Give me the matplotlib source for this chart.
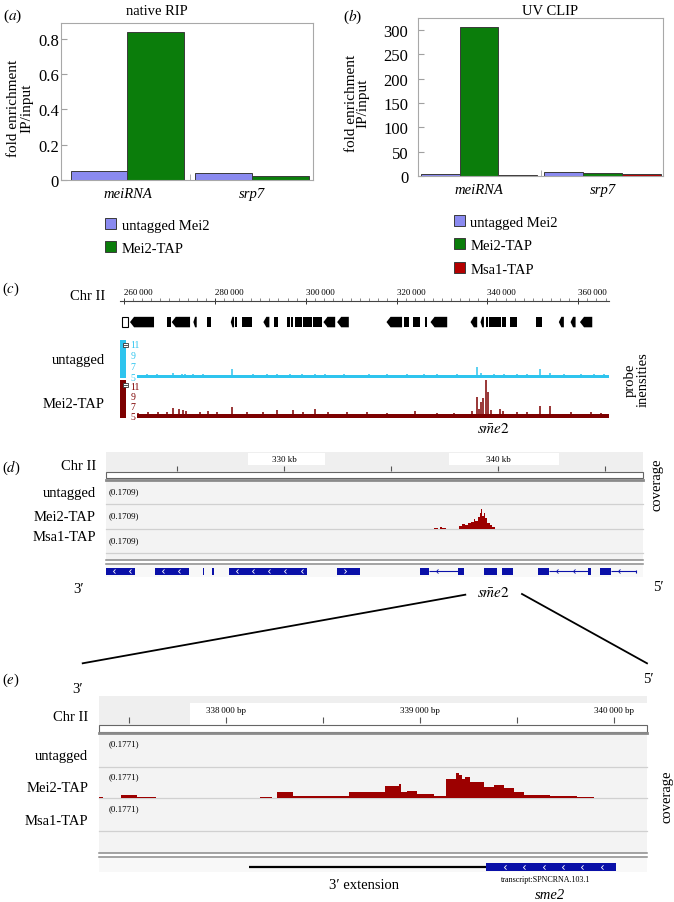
import matplotlib
matplotlib.use('Agg')
import matplotlib.pyplot as plt
from matplotlib.patches import Rectangle, Polygon
from matplotlib.path import Path
from matplotlib.ticker import MultipleLocator
import numpy as np

# ---------------- data ----------------
categories = ['meiRNA', 'srp7']
rip_labels = ['untagged Mei2', 'Mei2-TAP']
rip_untagged = [0.051, 0.038]
rip_mei2 = [0.838, 0.024]
rip_yticks = [0, 0.2, 0.4, 0.6, 0.8]

clip_labels = ['untagged Mei2', 'Mei2-TAP', 'Msa1-TAP']
clip_untagged = [3.5, 7.6]
clip_mei2 = [307.0, 6.2]
clip_msa1 = [1.5, 3.5]
clip_yticks = [0, 50, 100, 150, 200, 250, 300]

# panel (c): genome overview
c_ticks = [260000, 280000, 300000, 320000, 340000, 360000]
c_gene_start = [259490, 261320, 269400, 270500, 275270, 278210, 283500, 284450, 285920, 290680,
                293040, 295830, 296710, 297670, 299360, 301700, 303900, 306920, 317780, 321590,
                323660, 326370, 327470, 336280, 338480, 339580, 340330, 341560, 343260, 344890,
                350590, 355720, 358300, 360370]
c_gene_end = [260950, 266610, 270290, 274540, 276010, 279090, 284230, 284960, 288130, 292000,
              293990, 296560, 297290, 299140, 301340, 303550, 306490, 309490, 321210, 322690,
              325260, 326740, 331150, 337750, 339230, 340110, 341430, 342890, 344140, 346580,
              352070, 356830, 359410, 363080]
c_gene_shape = [2, -1, 0, -1, -1, 0, -1, 0, 0, -1,
                0, 0, 0, 0, 0, 0, -1, -1, -1, 0,
                0, 0, -1, -1, -1, 0, 0, 0, 0, 0,
                0, -1, -1, -1]
probe_ticks = [5, 7, 9, 11]
c_signal_start = 262900
c_signal_end = 366700
untagged_base = 5.25
untagged_spike_bp = [265000, 267200, 270860, 272710, 273440, 275260, 277470, 283850, 288480, 291430,
                     293630, 296560, 299140, 302070, 304270, 308390, 313900, 317930, 322330, 326010,
                     328940, 333350, 337600, 338630, 341430, 343630, 346560, 348760, 351470, 353770,
                     356850, 360510, 363460, 365660]
untagged_spike_val = [5.5, 5.4, 5.7, 5.5, 5.5, 5.4, 5.45, 6.35, 5.45, 5.5,
                      5.45, 5.5, 5.5, 5.5, 5.4, 5.45, 5.4, 5.5, 5.45, 5.5,
                      5.45, 5.4, 6.7, 5.6, 5.45, 5.5, 5.45, 5.4, 6.4, 5.7,
                      5.45, 5.5, 5.4, 5.45]
mei2_base = 5.3
mei2_spike_bp = [263150, 265350, 267550, 269400, 270860, 272110, 272930, 273660, 276740, 278570,
                 280420, 283850, 287030, 290680, 293630, 297160, 299490, 302070, 305000, 309120,
                 313520, 317930, 324160, 328940, 332620, 336650, 337600, 338130, 338630, 339010,
                 339580, 340020, 340840, 342880, 343410, 346560, 348760, 351560, 353770, 358300,
                 362710, 364910]
mei2_spike_val = [5.5, 5.6, 5.6, 5.7, 6.5, 6.2, 6.0, 5.8, 5.7, 5.9,
                  5.6, 6.7, 5.6, 5.7, 6.0, 6.1, 5.7, 6.2, 5.6, 5.6,
                  5.6, 5.5, 5.9, 5.5, 5.5, 5.8, 8.6, 6.3, 7.6, 8.5,
                  12.0, 9.6, 6.1, 6.3, 5.9, 5.6, 5.6, 6.8, 6.9, 5.6,
                  5.6, 5.5]

# panel (d): IGV view
d_ticks = [325000, 330000, 335000, 340000, 345000]
d_labelled = [330000, 340000]
d_range = 0.1709
d_cov_start = [336990, 337100, 337280, 337400, 338160, 338300, 338450, 338600, 338720, 338860,
               338950, 339050, 339140, 339200, 339260, 339330, 339400, 339500, 339620, 339740]
d_cov_end = [337100, 337200, 337400, 337580, 338300, 338450, 338600, 338720, 338860, 338950,
             339050, 339140, 339200, 339260, 339330, 339400, 339500, 339620, 339740, 339870]
d_cov_val = [0.010, 0.007, 0.017, 0.010, 0.021, 0.034, 0.027, 0.041, 0.048, 0.068,
             0.055, 0.082, 0.109, 0.137, 0.089, 0.109, 0.075, 0.041, 0.027, 0.014]
d_exon_start = [321660, 323950, 326210, 326630, 327400, 332470, 336340, 338114, 339330, 340190,
                341870, 344197, 344790]
d_exon_end = [323010, 325555, 326260, 326700, 331050, 333560, 336760, 338395, 339950, 340700,
              342370, 344352, 345290]
d_exon_strand = [-1, -1, 0, 0, -1, 1, 0, 0, 0, 0, 0, 0, 0]
d_intron_start = [336760, 342370, 345290]
d_intron_end = [338114, 344197, 346472]

# panel (e): zoomed IGV view
e_ticks = [337500, 338000, 338500, 339000, 339500, 340000]
e_labelled = [338000, 339000, 340000]
e_range = 0.1771
e_cov_start = [337344, 337456, 337542, 338176, 338262, 338344, 338573, 338633, 338822, 338890,
               338905, 338934, 338986, 339072, 339137, 339184, 339200, 339218, 339235, 339261,
               339330, 339382, 339434, 339485, 339537, 339674, 339812]
e_cov_end = [337365, 337542, 337639, 338236, 338344, 338573, 338633, 338822, 338890, 338905,
             338934, 338986, 339072, 339137, 339184, 339200, 339218, 339235, 339261, 339330,
             339382, 339434, 339485, 339537, 339674, 339812, 339898]
e_cov_val = [0.006, 0.019, 0.006, 0.006, 0.034, 0.013, 0.010, 0.032, 0.066, 0.079,
             0.034, 0.041, 0.023, 0.013, 0.108, 0.140, 0.130, 0.108, 0.119, 0.089,
             0.061, 0.074, 0.057, 0.032, 0.017, 0.013, 0.006]
e_exon = (339339, 340010)
e_extension = (338120, 339339)

# ---------------- style ----------------
W, H = 674, 903
plt.rcParams['font.family'] = ['Liberation Serif', 'DejaVu Serif']
plt.rcParams['mathtext.fontset'] = 'stix'
c_unt, c_mei, c_msa = '#8a8af0', '#0b7d0b', '#b40000'
c_edge = '#3a3a3a'
c_cyan, c_dred, c_cov, c_blue = '#2ec4ee', '#7d0000', '#9c0000', '#0a10a8'
igv_bg, igv_line, igv_sep = '#f3f3f3', '#8a8a8a', '#d0d0d0'

fig = plt.figure(figsize=(W / 100, H / 100), dpi=100)


def px_ax(x0, y0, x1, y1, z=2):
    ax = fig.add_axes([x0 / W, 1 - y1 / H, (x1 - x0) / W, (y1 - y0) / H])
    ax.set_zorder(z)
    ax.patch.set_visible(False)
    return ax


bg = px_ax(0, 0, W, H, z=-5)
fg = px_ax(0, 0, W, H, z=20)
for a in (bg, fg):
    a.set_xlim(0, W)
    a.set_ylim(H, 0)
    a.axis('off')


def T(x, y, s, size=10.5, ha='left', va='center_baseline', **kw):
    fg.text(x, y, s, fontsize=size, ha=ha, va=va, **kw)


def strip(ax):
    for s in ax.spines.values():
        s.set_visible(False)
    ax.set_xticks([])
    ax.set_yticks([])


# ---------------- (a)/(b) bar panels ----------------
def bar_panel(rect, series, colors, width, offsets, xlim, ylim, yticks, fmt, pad):
    ax = px_ax(*rect)
    x = np.arange(len(categories))
    for vals, col, off in zip(series, colors, offsets):
        ax.bar(x + off, vals, width, color=col, edgecolor=c_edge, lw=0.7, zorder=2)
    ax.set_xlim(*xlim)
    ax.set_ylim(*ylim)
    ax.set_yticks(yticks)
    ax.set_yticklabels([fmt(v) for v in yticks])
    ax.set_xticks(x)
    ax.set_xticklabels(categories, fontstyle='italic', fontsize=10.5)
    ax.set_xticks([0.5], minor=True)
    ax.tick_params(axis='x', which='major', length=0, pad=5)
    ax.tick_params(axis='x', which='minor', direction='in', length=4, color='#a0a0a0')
    ax.tick_params(axis='y', direction='in', length=4, color='#a0a0a0', labelsize=12, pad=pad)
    for s in ax.spines.values():
        s.set_color('#a8a8a8')
        s.set_linewidth(0.8)
    return ax


bar_panel((61, 24, 313, 181), [rip_untagged, rip_mei2], [c_unt, c_mei], 0.454,
          [-0.227, 0.227], (-0.534, 1.49), (0, 0.89), rip_yticks,
          lambda v: '0' if v == 0 else f'{v:.1f}', 1.5)
bar_panel((418, 19, 663, 177), [clip_untagged, clip_mei2, clip_msa1], [c_unt, c_mei, c_msa], 0.314,
          [-0.314, 0.0, 0.314], (-0.494, 1.49), (0, 324.6), clip_yticks,
          lambda v: f'{v:d}', 7)

T(3, 13.5, r'($\mathit{a}$)', 11)
T(343, 14, r'($\mathit{b}$)', 11)
T(156.7, 10, 'native RIP', 10.5, ha='center')
T(550, 10, 'UV CLIP', 10.5, ha='center')
for xx, yy, s in [(13.3, 108, 'fold enrichment'), (26.7, 108, 'IP/input'),
                  (351.7, 103, 'fold enrichment'), (363.3, 103, 'IP/input')]:
    fg.text(xx, yy, s, fontsize=11, rotation=90, ha='center', va='center')


def legend(x, y0, dy, labels, colors):
    for i, (lab, col) in enumerate(zip(labels, colors)):
        yc = y0 + i * dy
        fg.add_patch(Rectangle((x, yc - 5.5), 11, 11, facecolor=col, edgecolor=c_edge, lw=0.7))
        T(x + 16.5, yc + 1, lab, 10.5)


legend(105, 224, 23, rip_labels, [c_unt, c_mei])
legend(454, 221, 23.5, clip_labels, [c_unt, c_mei, c_msa])

# ---------------- (c) probe intensities ----------------
xlim_c = (259120, 366700)
ax_cr = px_ax(120, 301.7, 608.7, 330)
ax_cr.set_xlim(*xlim_c)
ax_cr.set_ylim(0, 1)
for s in ['left', 'right', 'bottom']:
    ax_cr.spines[s].set_visible(False)
ax_cr.spines['top'].set_color('#444444')
ax_cr.spines['top'].set_linewidth(0.8)
ax_cr.set_yticks([])
ax_cr.xaxis.tick_top()
ax_cr.set_xticks(c_ticks)
ax_cr.set_xticklabels([f'{v // 1000}\u2009{v % 1000:03d}' for v in c_ticks])
ax_cr.xaxis.set_minor_locator(MultipleLocator(2000))
ax_cr.tick_params(axis='x', which='major', direction='inout', length=5, width=0.7,
                  labelsize=6.5, pad=1, color='#333333')
ax_cr.tick_params(axis='x', which='minor', direction='out', length=2, width=0.5, color='#555555')
for lbl in ax_cr.get_xticklabels():
    lbl.set_ha('left')
g_lo, g_hi = 0.06, 0.43
g_mid = (g_lo + g_hi) / 2
for s0, e0, shp in zip(c_gene_start, c_gene_end, c_gene_shape):
    if shp == -1:
        aw = min(900, (e0 - s0) * 0.5)
        ax_cr.add_patch(Polygon([(s0, g_mid), (s0 + aw, g_hi), (e0, g_hi), (e0, g_lo), (s0 + aw, g_lo)],
                                closed=True, color='black', lw=0))
    elif shp == 2:
        ax_cr.add_patch(Rectangle((s0, g_lo), e0 - s0, g_hi - g_lo, facecolor='white',
                                  edgecolor='black', lw=0.8))
    else:
        ax_cr.add_patch(Rectangle((s0, g_lo), e0 - s0, g_hi - g_lo, color='black', lw=0))


def probe_track(rect, ylim, base, sbp, sval, col):
    ax = px_ax(*rect)
    ax.set_xlim(*xlim_c)
    ax.set_ylim(*ylim)
    for s in ax.spines.values():
        s.set_visible(False)
    ax.set_xticks([])
    ax.fill_between([c_signal_start, c_signal_end], ylim[0], base, color=col, lw=0)
    ax.vlines(sbp, ylim[0], sval, color=col, lw=1.1)
    ax.set_yticks(probe_ticks)
    ax.set_yticklabels([str(v) for v in probe_ticks])
    ax.tick_params(axis='y', length=0, pad=-7.5, labelsize=7, labelcolor=col)
    for lbl in ax.get_yticklabels():
        lbl.set_ha('left')
    return ax


probe_track((120, 341, 608.7, 379.3), (4.63, 11.74), untagged_base, untagged_spike_bp,
            untagged_spike_val, c_cyan)
probe_track((120, 381, 608.7, 419.3), (4.34, 12.0), mei2_base, mei2_spike_bp,
            mei2_spike_val, c_dred)
for y0, col in [(341, c_cyan), (381, c_dred)]:
    fg.add_patch(Rectangle((120, y0), 6, 38.3, color=col, lw=0))
    fg.add_patch(Rectangle((123.3, y0 + 2.5), 4.8, 4.8, facecolor='white', edgecolor='#333333', lw=0.6))
    fg.plot([124.3, 127.1], [y0 + 4.9, y0 + 4.9], color='#333333', lw=0.6)

T(2, 287, r'($\mathit{c}$)', 10.5)
T(105, 295, 'Chr II', 10.5, ha='right')
T(105, 359.3, 'untagged', 10.5, ha='right')
T(105, 402.7, 'Mei2-TAP', 10.5, ha='right')
fg.text(636.5, 380, 'probe\ninensities', fontsize=10.5, rotation=90, ha='center', va='center',
        multialignment='center', linespacing=1.05)
T(493.7, 428, r'$\mathit{s\bar{m}e2}$', 11, ha='center')

# ---------------- IGV helpers ----------------
chev_l = Path([(0.35, 0.75), (-0.35, 0.0), (0.35, -0.75)], [Path.MOVETO, Path.LINETO, Path.LINETO])
chev_r = Path([(-0.35, 0.75), (0.35, 0.0), (-0.35, -0.75)], [Path.MOVETO, Path.LINETO, Path.LINETO])


def igv_frame(x0, x1, y_rul, y_ideo, seps, y_dbl, y_gene_end, boxes):
    bg.add_patch(Rectangle((x0, y_rul), x1 - x0, y_ideo - y_rul, color='#efefef', lw=0))
    for bx0, by0, bx1, by1 in boxes:
        bg.add_patch(Rectangle((bx0, by0), bx1 - bx0, by1 - by0, color='white', lw=0))
    bg.add_patch(Rectangle((x0, y_ideo), x1 - x0, 6.6, facecolor='white', edgecolor='#666666', lw=0.8))
    bg.plot([x0, x1], [y_ideo + 8.3, y_ideo + 8.3], color=igv_line, lw=2)
    bg.add_patch(Rectangle((x0, y_ideo + 9.3), x1 - x0, y_dbl - y_ideo - 9.3, color=igv_bg, lw=0))
    for yy in seps:
        bg.plot([x0, x1], [yy, yy], color=igv_sep, lw=0.9)
    for yy in (y_dbl, y_dbl + 3.6):
        bg.plot([x0, x1], [yy, yy], color=igv_line, lw=1.1)
    bg.add_patch(Rectangle((x0, y_dbl + 4.5), x1 - x0, y_gene_end - y_dbl - 4.5, color='#f8f8f8', lw=0))


def igv_ruler(rect, xlim, ticks, labelled, fmt, tick_frac, label_frac):
    ax = px_ax(*rect)
    ax.set_xlim(*xlim)
    ax.set_ylim(0, 1)
    strip(ax)
    ax.vlines(ticks, tick_frac[0], tick_frac[1], color='#555555', lw=0.8)
    for v in labelled:
        ax.text(v, label_frac, fmt(v), fontsize=6.5, ha='center', va='center')
    return ax


def cov_track(rect, xlim, rng, starts, ends, vals):
    ax = px_ax(*rect)
    ax.set_xlim(*xlim)
    ax.set_ylim(0, rng)
    strip(ax)
    widths = np.array(ends) - np.array(starts)
    ax.bar(starts, vals, width=widths, align='edge', color=c_cov, lw=0)
    return ax


def chevrons(ax, s0, e0, y, spacing, strand, color, ms):
    xs = np.arange(s0 + spacing / 2, e0 - spacing / 4, spacing)
    ax.plot(xs, np.full(len(xs), y), ls='none', marker=chev_l if strand < 0 else chev_r,
            ms=ms, mec=color, mfc='none', mew=0.6)


# ---------------- (d) ----------------
xlim_d = (321660, 346790)
igv_frame(106, 643, 453, 472.7, [505, 530, 554], 561, 578,
          [(248, 454, 325, 465.5), (449, 454, 559, 465.5)])
igv_ruler((106, 453, 643, 472.7), xlim_d, d_ticks, d_labelled, lambda v: f'{v // 1000} kb',
          (0.05, 0.27), 0.64)
cov_track((106, 505, 643, 530), xlim_d, d_range, d_cov_start, d_cov_end, d_cov_val)
ax_dg = px_ax(106, 566, 643, 578)
ax_dg.set_xlim(*xlim_d)
ax_dg.set_ylim(0, 1)
strip(ax_dg)
ax_dg.hlines([0.46] * len(d_intron_start), d_intron_start, d_intron_end, color=c_blue, lw=0.8)
for s0, e0 in zip(d_intron_start, d_intron_end):
    chevrons(ax_dg, s0, e0, 0.46, 800, -1, c_blue, 3)
ax_dg.vlines(d_intron_end[-1], 0.3, 0.62, color=c_blue, lw=0.8)
for s0, e0, st in zip(d_exon_start, d_exon_end, d_exon_strand):
    ax_dg.add_patch(Rectangle((s0, 0.19), e0 - s0, 0.535, color=c_blue, lw=0))
    if st != 0:
        chevrons(ax_dg, s0, e0, 0.46, 760, st, 'white', 3)

T(2, 465, r'($\mathit{d}$)', 10.5)
T(96, 465, 'Chr II', 10.5, ha='right')
T(96, 492.3, 'untagged', 10.5, ha='right')
T(96, 516, 'Mei2-TAP', 10.5, ha='right')
T(96, 536, 'Msa1-TAP', 10.5, ha='right')
for yy in (490.7, 515, 540):
    T(108.3, yy, f'({d_range})', 6.5)
fg.text(657, 485, 'coverage', fontsize=10.5, rotation=90, ha='center', va='center')
T(79, 588, '3\u2032', 10.5, ha='center')
T(658.7, 586, '5\u2032', 10.5, ha='center')
T(493.7, 592, r'$\mathit{s\bar{m}e2}$', 11, ha='center')
fg.plot([465.3, 82.7], [595.7, 664.3], color='black', lw=1.3)
fg.plot([522, 647], [595, 664.3], color='black', lw=1.3)

# ---------------- (e) ----------------
xlim_e = (337346, 340172)
igv_frame(99.3, 647, 696.7, 726, [767.7, 799, 831.7], 854.3, 873.3,
          [(190, 704, 647, 726)])
igv_ruler((99.3, 696.7, 647, 726), xlim_e, e_ticks, e_labelled,
          lambda v: f'{v // 1000}\u2009{v % 1000:03d} bp', (0.06, 0.28), 0.52)
cov_track((99.3, 767.7, 647, 799), xlim_e, e_range, e_cov_start, e_cov_end, e_cov_val)
ax_eg = px_ax(99.3, 859.5, 647, 873.3)
ax_eg.set_xlim(*xlim_e)
ax_eg.set_ylim(0, 1)
strip(ax_eg)
ax_eg.hlines(0.37, e_extension[0], e_extension[1], color='black', lw=1.6)
ax_eg.add_patch(Rectangle((e_exon[0], 0.12), e_exon[1] - e_exon[0], 0.53, color=c_blue, lw=0))
chevrons(ax_eg, e_exon[0] + 50, e_exon[1], 0.385, 100, -1, 'white', 3.2)

T(2, 678, r'($\mathit{e}$)', 10.5)
T(77.3, 688, '3\u2032', 10.5, ha='center')
T(648.7, 678, '5\u2032', 10.5, ha='center')
T(88.3, 715.7, 'Chr II', 10.5, ha='right')
T(88.3, 755, 'untagged', 10.5, ha='right')
T(88.3, 786.7, 'Mei2-TAP', 10.5, ha='right')
T(88.3, 820, 'Msa1-TAP', 10.5, ha='right')
for yy in (743.3, 775.7, 807.7):
    T(108.3, yy, f'({e_range})', 6.5)
fg.text(667, 796.7, 'coverage', fontsize=10.5, rotation=90, ha='center', va='center')
T(364, 884, '3\u2032 extension', 10.5, ha='center')
T(545.3, 879, 'transcript:SPNCRNA.103.1', 5.8, ha='center')
T(550.3, 894, 'sme2', 10.5, ha='center', fontstyle='italic')

fig.savefig('out.png', dpi=100)
